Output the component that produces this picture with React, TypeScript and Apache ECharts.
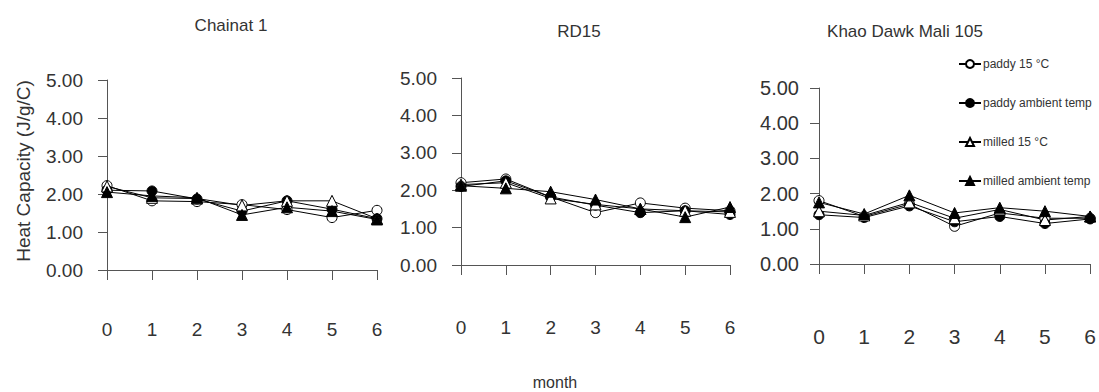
import React, { useEffect, useRef } from "react";
import * as echarts from "echarts";

const months = [0, 1, 2, 3, 4, 5, 6];
const panelTitles = ["Chainat 1", "RD15", "Khao Dawk Mali 105"];
const seriesNames = ["paddy 15 °C", "paddy ambient temp", "milled 15 °C", "milled ambient temp"];

const chainatPaddy15 = [2.22, 1.82, 1.8, 1.72, 1.59, 1.38, 1.57];
const chainatPaddyAmb = [2.1, 2.08, 1.87, 1.55, 1.82, 1.6, 1.35];
const chainatMilled15 = [2.2, 1.9, 1.88, 1.7, 1.82, 1.82, 1.35];
const chainatMilledAmb = [2.05, 1.95, 1.9, 1.45, 1.65, 1.55, 1.33];

const rd15Paddy15 = [2.2, 2.3, 1.82, 1.4, 1.66, 1.52, 1.45];
const rd15PaddyAmb = [2.1, 2.25, 1.82, 1.6, 1.4, 1.45, 1.35];
const rd15Milled15 = [2.15, 2.2, 1.78, 1.62, 1.5, 1.45, 1.42];
const rd15MilledAmb = [2.12, 2.05, 1.96, 1.75, 1.5, 1.28, 1.55];

const kdmlPaddy15 = [1.8, 1.35, 1.7, 1.07, 1.45, 1.3, 1.3];
const kdmlPaddyAmb = [1.4, 1.32, 1.65, 1.2, 1.35, 1.15, 1.28];
const kdmlMilled15 = [1.5, 1.38, 1.75, 1.3, 1.55, 1.25, 1.35];
const kdmlMilledAmb = [1.75, 1.42, 1.95, 1.45, 1.6, 1.5, 1.35];

const yTicks = [0, 1, 2, 3, 4, 5];

const FONT = "Liberation Sans, Arial, Helvetica, sans-serif";
const TXT = "#333";

export default function App() {
  const ref = useRef<HTMLDivElement>(null);
  useEffect(() => {
    document.body.style.margin = "0";
    if (!ref.current) return;
    const chart = echarts.init(ref.current, undefined, { renderer: "svg" });

    const panels = [
      [chainatPaddy15, chainatPaddyAmb, chainatMilled15, chainatMilledAmb],
      [rd15Paddy15, rd15PaddyAmb, rd15Milled15, rd15MilledAmb],
      [kdmlPaddy15, kdmlPaddyAmb, kdmlMilled15, kdmlMilledAmb],
    ];
    const grids = [
      { left: 107, top: 80, width: 270, height: 190 },
      { left: 461, top: 78, width: 269, height: 187 },
      { left: 819, top: 88, width: 273, height: 176 },
    ];
    const xFont = [19, 19, 21];
    const xMargin = [50, 53, 62];
    const yFont = [19, 19, 20];
    const yMargin = [24, 24, 20];

    const symbols = [
      { symbol: "circle", fill: "#fff", size: 10 },
      { symbol: "circle", fill: "#000", size: 10 },
      { symbol: "triangle", fill: "#fff", size: 11 },
      { symbol: "triangle", fill: "#000", size: 11 },
    ];

    const series: any[] = [];
    panels.forEach((p, gi) => {
      p.forEach((vals, si) => {
        series.push({
          type: "line",
          name: seriesNames[si],
          xAxisIndex: gi,
          yAxisIndex: gi,
          data: months.map((m, i) => [m, vals[i]]),
          symbol: symbols[si].symbol,
          symbolSize: symbols[si].size,
          showAllSymbol: true,
          lineStyle: { color: "#000", width: 1 },
          itemStyle: { color: symbols[si].fill, borderColor: "#000", borderWidth: 1 },
          emphasis: { disabled: true },
        });
      });
    });

    const option: any = {
      animation: false,
      backgroundColor: "#fff",
      grid: grids,
      xAxis: grids.map((_, i) => ({
        type: "value",
        gridIndex: i,
        min: 0,
        max: 6,
        interval: 1,
        axisLine: { show: true, onZero: false, lineStyle: { color: "#555", width: 1 } },
        axisTick: { show: true, inside: false, length: 10, lineStyle: { color: "#555" } },
        axisLabel: { fontSize: xFont[i], margin: xMargin[i], color: TXT, fontFamily: FONT },
        splitLine: { show: false },
      })),
      yAxis: grids.map((_, i) => ({
        type: "value",
        gridIndex: i,
        min: yTicks[0],
        max: yTicks[yTicks.length - 1],
        interval: 1,
        axisLine: { show: true, lineStyle: { color: "#555", width: 1 } },
        axisTick: { show: true, length: 9, lineStyle: { color: "#555" } },
        axisLabel: {
          fontSize: yFont[i],
          margin: yMargin[i],
          color: TXT,
          fontFamily: FONT,
          formatter: (v: number) => v.toFixed(2),
        },
        splitLine: { show: false },
      })),
      legend: {
        orient: "vertical",
        left: 953,
        top: 53,
        itemWidth: 22,
        itemHeight: 10,
        itemGap: 27,
        data: seriesNames,
        textStyle: { fontSize: 12, color: TXT, fontFamily: FONT, padding: [0, 0, 0, -3] },
        selectedMode: false,
      },
      graphic: [
        ...panelTitles.map((t, i) => ({
          type: "text",
          x: [231, 579, 905][i],
          y: [25, 31, 31][i],
          style: { text: t, fontSize: 17, fontFamily: FONT, fill: TXT, align: "center", verticalAlign: "middle" },
        })),
        {
          type: "text",
          x: 23,
          y: 171,
          rotation: Math.PI / 2,
          style: {
            text: "Heat Capacity (J/g/C)",
            fontSize: 19,
            fontFamily: FONT,
            fill: TXT,
            align: "center",
            verticalAlign: "middle",
          },
        },
        {
          type: "text",
          x: 555,
          y: 382,
          style: { text: "month", fontSize: 16, fontFamily: FONT, fill: TXT, align: "center", verticalAlign: "middle" },
        },
      ],
      series,
    };
    chart.setOption(option);
    return () => chart.dispose();
  }, []);
  return <div ref={ref} style={{ width: 1099, height: 392 }} />;
}
